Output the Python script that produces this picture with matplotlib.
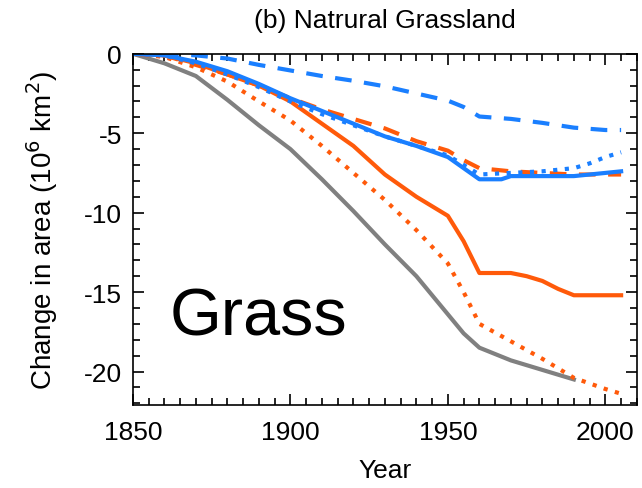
import matplotlib
matplotlib.use("Agg")
import matplotlib.pyplot as plt
from matplotlib.ticker import MultipleLocator

plt.rcParams['font.family'] = ['Liberation Sans', 'DejaVu Sans']
plt.rcParams['axes.unicode_minus'] = False

# values (10^6 km^2)
gray_years = [1850, 1860, 1870, 1880, 1890, 1900, 1910, 1920, 1930, 1940, 1945,
              1950, 1955, 1960, 1970, 1980, 1990]
gray_vals = [0, -0.6, -1.4, -2.9, -4.5, -6.0, -7.9, -9.9, -12.0, -14.0, -15.2,
             -16.4, -17.6, -18.5, -19.3, -19.9, -20.5]

or_solid_years = [1850, 1860, 1870, 1880, 1890, 1900, 1910, 1920, 1930, 1940, 1945,
                  1950, 1955, 1960, 1970, 1975, 1980, 1985, 1990, 2005]
or_solid_vals = [0, -0.1, -0.6, -1.3, -2.0, -3.0, -4.4, -5.8, -7.6, -9.0, -9.6,
                 -10.2, -11.8, -13.8, -13.8, -14.0, -14.3, -14.8, -15.2, -15.2]

or_dot_years = [1850, 1860, 1870, 1880, 1890, 1900, 1910, 1920, 1930, 1940, 1950,
                1955, 1960, 1970, 1980, 1990, 2000, 2005]
or_dot_vals = [0, -0.2, -0.85, -1.75, -3.0, -4.2, -5.8, -7.5, -9.2, -11.1, -13.2,
               -15.0, -17.0, -18.1, -19.2, -20.4, -21.1, -21.4]

or_dash_years = [1850, 1860, 1870, 1880, 1890, 1900, 1910, 1920, 1930, 1940, 1950,
                 1955, 1960, 1970, 1980, 1990, 2005]
or_dash_vals = [0, -0.1, -0.7, -1.3, -2.0, -2.8, -3.5, -4.1, -4.7, -5.5, -6.1,
                -6.7, -7.2, -7.4, -7.5, -7.6, -7.6]

bl_solid_years = [1850, 1860, 1870, 1880, 1890, 1900, 1910, 1920, 1930, 1940, 1950,
                  1955, 1960, 1967, 1970, 1990, 2000, 2005]
bl_solid_vals = [0, -0.1, -0.5, -1.1, -1.9, -2.8, -3.6, -4.4, -5.2, -5.8, -6.5,
                 -7.2, -7.9, -7.9, -7.7, -7.7, -7.5, -7.4]

bl_dot_years = [1850, 1860, 1870, 1880, 1890, 1900, 1910, 1920, 1930, 1940, 1950,
                1955, 1960, 1970, 1980, 1990, 1995, 2000, 2005]
bl_dot_vals = [0, -0.1, -0.6, -1.3, -2.1, -3.0, -3.8, -4.5, -5.2, -5.8, -6.4,
               -7.0, -7.6, -7.5, -7.4, -7.2, -6.9, -6.5, -6.2]

bl_dash_years = [1850, 1860, 1870, 1880, 1890, 1900, 1910, 1920, 1930, 1940, 1950,
                 1955, 1960, 1970, 1980, 1990, 2000, 2005]
bl_dash_vals = [0, 0, -0.1, -0.3, -0.7, -1.05, -1.4, -1.7, -2.05, -2.5, -2.95,
                -3.35, -3.95, -4.1, -4.35, -4.65, -4.8, -4.8]

orange = '#ff5a0a'
blue = '#1a7fff'
gray = '#808080'

fig = plt.figure(figsize=(6.42, 4.89), dpi=100)
ax = fig.add_axes([0.207, 0.170, 0.785, 0.718])

lw = 3
dots = (0, (1, 1.8))
dashes = (0, (4, 3))
ax.plot(gray_years, gray_vals, color=gray, lw=lw)
ax.plot(or_solid_years, or_solid_vals, color=orange, lw=lw)
ax.plot(or_dot_years, or_dot_vals, color=orange, lw=lw, linestyle=dots)
ax.plot(or_dash_years, or_dash_vals, color=orange, lw=lw, linestyle=dashes)
ax.plot(bl_dot_years, bl_dot_vals, color=blue, lw=lw, linestyle=dots)
ax.plot(bl_solid_years, bl_solid_vals, color=blue, lw=lw)
ax.plot(bl_dash_years, bl_dash_vals, color=blue, lw=lw, linestyle=dashes)

ax.set_xlim(1850, 2010)
ax.set_ylim(-22.1, 0)
ax.set_xticks([1850, 1900, 1950, 2000])
ax.set_yticks([0, -5, -10, -15, -20])
ax.xaxis.set_minor_locator(MultipleLocator(5))
ax.yaxis.set_minor_locator(MultipleLocator(1))
ax.tick_params(which='both', direction='in', top=True, right=True, labelsize=19, width=1.2)
ax.tick_params(which='major', length=8, pad=8)
ax.tick_params(axis='x', which='major', pad=11)
ax.tick_params(which='minor', length=5)
for s in ax.spines.values():
    s.set_linewidth(1.2)

ax.set_xlabel('Year', fontsize=19, labelpad=10)
ax.set_ylabel('Change in area (10$^6$ km$^2$)', fontsize=20, labelpad=17)
ax.set_title('(b) Natrural Grassland', fontsize=19, pad=19)
ax.text(1861.8, -17.7, 'Grass', fontsize=48)

fig.savefig('out.png', dpi=100)
